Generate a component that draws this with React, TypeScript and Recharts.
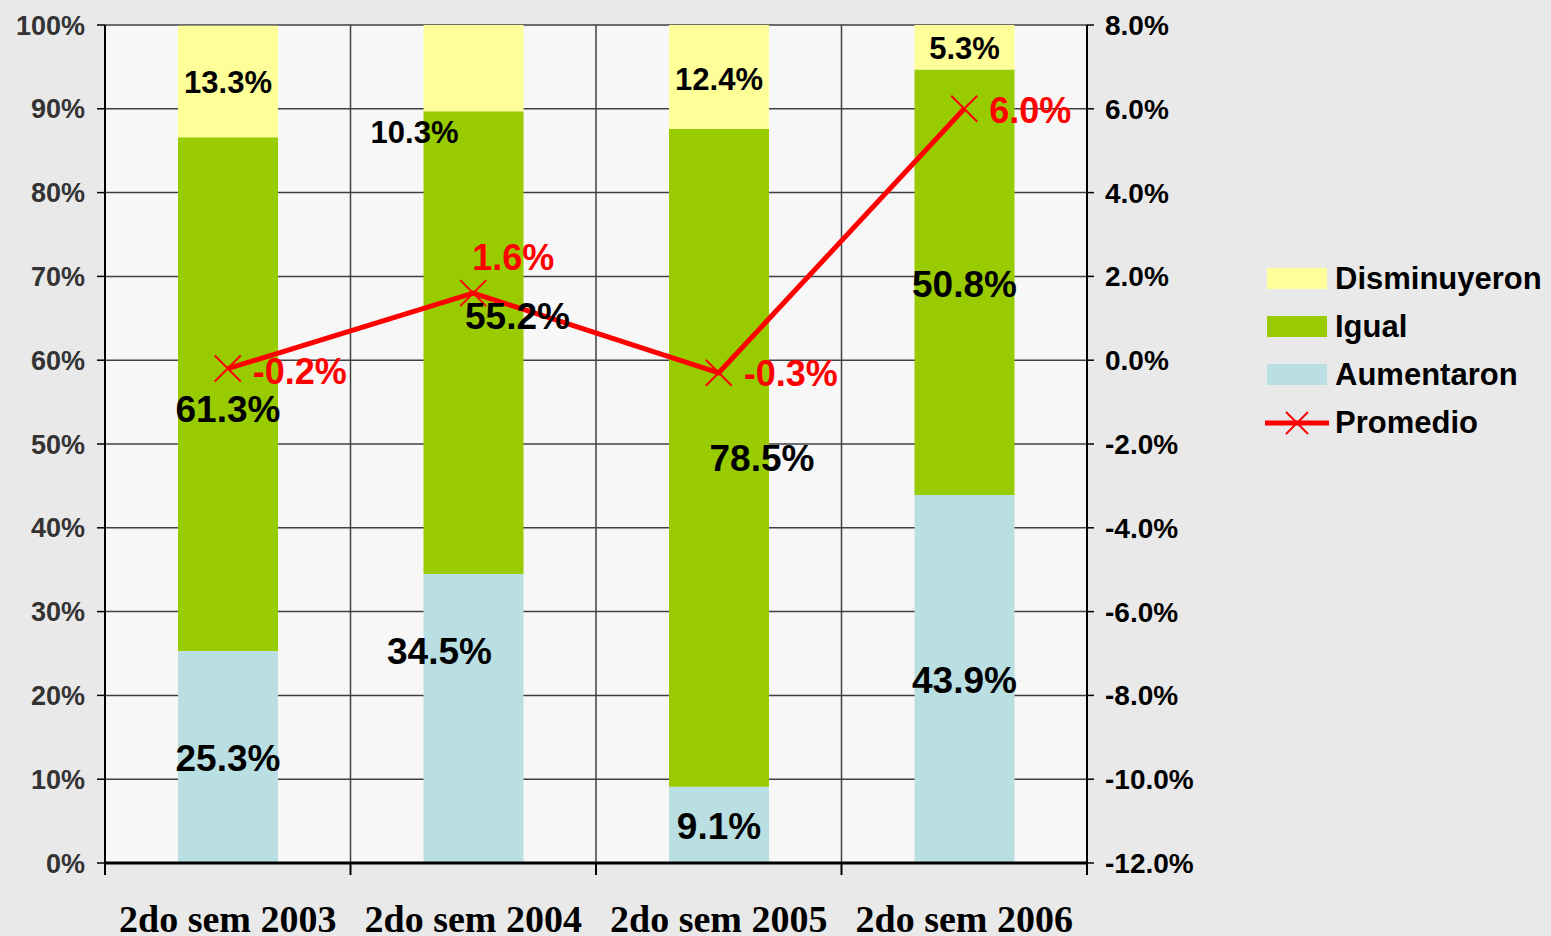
import React from "react";
import {
  ComposedChart, Bar, Line, XAxis, YAxis, CartesianGrid, LabelList,
} from "recharts";

const categories = ["2do sem 2003", "2do sem 2004", "2do sem 2005", "2do sem 2006"];
const aumentaron = [25.3, 34.5, 9.1, 43.9];
const igual = [61.3, 55.2, 78.5, 50.8];
const disminuyeron = [13.3, 10.3, 12.4, 5.3];
const promedio = [-0.2, 1.6, -0.3, 6.0];

const leftTicks = [0, 10, 20, 30, 40, 50, 60, 70, 80, 90, 100];
const rightTicks = [-12, -10, -8, -6, -4, -2, 0, 2, 4, 6, 8];

const C_YELLOW = "#FFFF99";
const C_GREEN = "#99CC00";
const C_BLUE = "#B9DFE3";
const C_RED = "#FF0000";
const SANS = "'Liberation Sans', Arial, sans-serif";
const SERIF = "'Liberation Serif', 'Times New Roman', serif";

const W = 1551;
const H = 936;
const PLOT_LEFT = 105;
const PLOT_RIGHT = 1087;
const BAND = (PLOT_RIGHT - PLOT_LEFT) / categories.length;

// label nudges (px) where the original labels were dragged off-centre
const offDism = [[0, 0], [-59, 64], [0, 2], [0, 1]];
const offIgual = [[0, 15], [44, -27], [43, 0], [0, 1]];
const offAum = [[0, 1], [-34, -68], [0, 1], [0, 1]];
const offProm: { dx: number; dy: number; anchor: "start" | "middle" }[] = [
  { dx: 25, dy: 2, anchor: "start" },
  { dx: 40, dy: -36, anchor: "middle" },
  { dx: 25, dy: 0, anchor: "start" },
  { dx: 25, dy: 1, anchor: "start" },
];

const rows = categories.map((cat, i) => ({
  cat,
  aum: aumentaron[i],
  igual: igual[i],
  dism: disminuyeron[i],
  prom: promedio[i],
}));

const segLabel = (offs: number[][], size: number) => (p: any) => {
  const { x, y, width, height, value, index } = p;
  const [dx, dy] = offs[index] ?? [0, 0];
  return (
    <text x={x + width / 2 + dx} y={y + height / 2 + dy} dy="0.36em" textAnchor="middle"
      fontFamily={SANS} fontWeight="bold" fontSize={size} fill="#000">
      {Number(value).toFixed(1)}%
    </text>
  );
};

const promLabel = (p: any) => {
  const { x, y, value, index } = p;
  const o = offProm[index];
  return (
    <text x={x + o.dx} y={y + o.dy} dy="0.36em" textAnchor={o.anchor}
      fontFamily={SANS} fontWeight="bold" fontSize={36} fill={C_RED}>
      {Number(value).toFixed(1)}%
    </text>
  );
};

const XMark = ({ cx, cy, size = 13 }: { cx?: number; cy?: number; size?: number }) => {
  if (cx == null || cy == null) return null;
  const r = size;
  return (
    <g stroke={C_RED} strokeWidth={2}>
      <line x1={cx - r} y1={cy - r} x2={cx + r} y2={cy + r} />
      <line x1={cx - r} y1={cy + r} x2={cx + r} y2={cy - r} />
    </g>
  );
};

const CatTick = (p: any) => {
  const { x, y, payload, index } = p;
  const half = BAND / 2;
  return (
    <g>
      <line x1={x - half} x2={x - half} y1={y} y2={y + 12} stroke="#000" strokeWidth={2} />
      {index === categories.length - 1 && (
        <line x1={x + half} x2={x + half} y1={y} y2={y + 12} stroke="#000" strokeWidth={2} />
      )}
      <text x={x} y={y + 69} textAnchor="middle" fontFamily={SERIF} fontWeight="bold"
        fontSize={38} fill="#000">{payload.value}</text>
    </g>
  );
};

const legendItems = [
  { name: "Disminuyeron", color: C_YELLOW, type: "box" },
  { name: "Igual", color: C_GREEN, type: "box" },
  { name: "Aumentaron", color: C_BLUE, type: "box" },
  { name: "Promedio", color: C_RED, type: "line" },
];

const ChartLegend = () => (
  <div style={{ position: "absolute", left: 1265, top: 255, fontFamily: SANS, fontWeight: "bold", fontSize: 31, color: "#000" }}>
    {legendItems.map((e) => (
      <div key={e.name} style={{ display: "flex", alignItems: "center", height: 48 }}>
        <svg width={68} height={30} style={{ marginRight: 2 }}>
          {e.type === "box" ? (
            <rect x={2} y={4} width={60} height={21} fill={e.color} />
          ) : (
            <g>
              <line x1={0} x2={64} y1={15} y2={15} stroke={e.color} strokeWidth={5} />
              <XMark cx={32} cy={15} size={11} />
            </g>
          )}
        </svg>
        <span>{e.name}</span>
      </div>
    ))}
  </div>
);

export default function App() {
  return (
    <div style={{ position: "absolute", left: 0, top: 0, width: W, height: H, background: "#e9e9e9", overflow: "hidden" }}>
      <ComposedChart width={W} height={H} data={rows} barSize={100}
        margin={{ top: 25, right: W - PLOT_RIGHT - 120, bottom: 0, left: 0 }}>
        <CartesianGrid yAxisId="left" stroke="#404040" strokeWidth={1.5} fill="#f7f7f7"
          verticalCoordinatesGenerator={({ offset }: any) =>
            [0, 1, 2, 3, 4].map((i) => offset.left + (i * offset.width) / 4)} />
        <XAxis dataKey="cat" height={73} tickLine={false} tickSize={0} tickMargin={0}
          axisLine={{ stroke: "#000", strokeWidth: 3 }} tick={<CatTick />} interval={0} />
        <YAxis yAxisId="left" width={PLOT_LEFT} domain={[0, 100]} ticks={leftTicks}
          tickFormatter={(v: number) => `${v}%`} tickSize={8} tickMargin={12}
          axisLine={{ stroke: "#000", strokeWidth: 2 }} tickLine={{ stroke: "#000", strokeWidth: 1.5 }}
          tick={{ fontFamily: SANS, fontWeight: "bold", fontSize: 27, fill: "#333" }} />
        <YAxis yAxisId="right" orientation="right" width={120} domain={[-12, 8]} ticks={rightTicks}
          tickFormatter={(v: number) => `${v.toFixed(1)}%`} tickSize={7} tickMargin={11}
          axisLine={{ stroke: "#000", strokeWidth: 2 }} tickLine={{ stroke: "#000", strokeWidth: 1.5 }}
          tick={{ fontFamily: SANS, fontWeight: "bold", fontSize: 28, fill: "#000", textAnchor: "start" }} />
        <Bar yAxisId="left" dataKey="aum" name="Aumentaron" stackId="a" fill={C_BLUE} isAnimationActive={false}>
          <LabelList dataKey="aum" content={segLabel(offAum, 37)} />
        </Bar>
        <Bar yAxisId="left" dataKey="igual" name="Igual" stackId="a" fill={C_GREEN} isAnimationActive={false}>
          <LabelList dataKey="igual" content={segLabel(offIgual, 37)} />
        </Bar>
        <Bar yAxisId="left" dataKey="dism" name="Disminuyeron" stackId="a" fill={C_YELLOW} isAnimationActive={false}>
          <LabelList dataKey="dism" content={segLabel(offDism, 31)} />
        </Bar>
        <Line yAxisId="right" dataKey="prom" name="Promedio" stroke={C_RED} strokeWidth={5}
          dot={<XMark />} activeDot={false} isAnimationActive={false}>
          <LabelList dataKey="prom" content={promLabel} />
        </Line>
      </ComposedChart>
      <ChartLegend />
    </div>
  );
}
